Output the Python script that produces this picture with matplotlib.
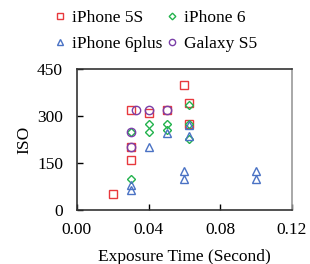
import matplotlib
matplotlib.use("Agg")
import matplotlib.pyplot as plt

plt.rcParams['font.family'] = ['Liberation Serif', 'DejaVu Serif']

# Data
s5_x = [0.02, 0.03, 0.03, 0.03, 0.04, 0.05, 0.06, 0.0625, 0.0625]
s5_y = [50, 160, 200, 320, 310, 320, 400, 340, 275]
i6_x = [0.03, 0.03, 0.04, 0.04, 0.05, 0.05, 0.0625, 0.0625, 0.0625]
i6_y = [100, 250, 275, 250, 275, 255, 335, 275, 225]
i6p_x = [0.03, 0.03, 0.04, 0.05, 0.06, 0.06, 0.0625, 0.0625, 0.1, 0.1]
i6p_y = [80, 65, 200, 245, 125, 100, 270, 235, 125, 100]
gs5_x = [0.03, 0.03, 0.033, 0.04, 0.05]
gs5_y = [200, 250, 320, 320, 320]

labels = ["iPhone 5S", "iPhone 6", "iPhone 6plus", "Galaxy S5"]
colors = ["#e8383d", "#22b24c", "#4a72c4", "#7a3fa8"]

fig = plt.figure(figsize=(3.10, 2.64), dpi=100)
ax = fig.add_axes([0.248, 0.205, 0.694, 0.534])

h1, = ax.plot(s5_x, s5_y, 's', mfc='none', mec=colors[0], ms=6, mew=1.0, label=labels[0])
h2, = ax.plot(i6_x, i6_y, 'D', mfc='none', mec=colors[1], ms=4.5, mew=1.0, label=labels[1])
h3, = ax.plot(i6p_x, i6p_y, '^', mfc='none', mec=colors[2], ms=6, mew=1.0, label=labels[2])
h4, = ax.plot(gs5_x, gs5_y, 'o', mfc='none', mec=colors[3], ms=6, mew=1.0, label=labels[3])

ax.set_xlim(0, 0.12)
ax.set_ylim(0, 450)
ax.set_xticks([0.0, 0.04, 0.08, 0.12])
ax.set_xticklabels(["0.00", "0.04", "0.08", "0.12"])
ax.set_yticks([0, 150, 300, 450])
ax.tick_params(direction='in', labelsize=12.5, length=4, width=1)
ax.tick_params(axis='x', pad=9)
ax.tick_params(axis='y', pad=10)
ax.set_xlabel("Exposure Time (Second)", fontsize=12.5, labelpad=8)
ax.set_ylabel("ISO", fontsize=12.5, labelpad=3)
for sp in ax.spines.values():
    sp.set_linewidth(1.2)
    sp.set_color('#333333')
ax.spines['right'].set_color('#999999')

fig.legend(handles=[h1, h3, h2, h4], labels=[labels[0], labels[2], labels[1], labels[3]],
           ncol=2, loc='upper left',
           bbox_to_anchor=(0.13, 1.02), frameon=False, fontsize=12.5,
           handlelength=0.5, handletextpad=0.4, columnspacing=0.35,
           labelspacing=0.55, markerscale=0.75)

fig.savefig("out.png", dpi=100)
